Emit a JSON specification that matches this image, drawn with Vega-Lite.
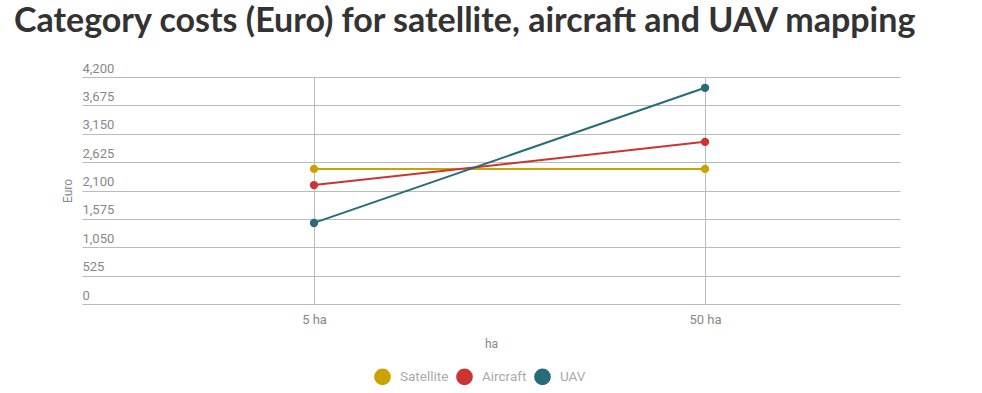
{
  "$schema": "https://vega.github.io/schema/vega-lite/v6.json",
  "autosize": "none",
  "width": 818,
  "height": 227,
  "padding": {"left": 82, "top": 77, "right": 82, "bottom": 89},
  "background": "white",
  "title": {
    "text": "Category costs (Euro) for satellite, aircraft and UAV mapping",
    "anchor": "start",
    "frame": "group",
    "dx": -68,
    "offset": 23,
    "font": "Lato",
    "fontSize": 34,
    "fontWeight": "bold",
    "color": "#333333"
  },
  "data": {
    "values": [
      {"series": "Satellite", "ha": 5, "euro": 2500},
      {"series": "Satellite", "ha": 50, "euro": 2500},
      {"series": "Aircraft", "ha": 5, "euro": 2200},
      {"series": "Aircraft", "ha": 50, "euro": 3000},
      {"series": "UAV", "ha": 5, "euro": 1500},
      {"series": "UAV", "ha": 50, "euro": 4000}
    ]
  },
  "encoding": {
    "x": {
      "field": "ha",
      "type": "quantitative",
      "scale": {"domain": [-21.7, 72.44], "nice": false, "zero": false},
      "axis": {
        "title": "ha",
        "values": [5, 50],
        "labelExpr": "datum.value + ' ha'",
        "labelAngle": 0,
        "domain": false,
        "ticks": false,
        "grid": true,
        "gridColor": "#bbbbbb",
        "labelPadding": 9,
        "titlePadding": 12
      }
    },
    "y": {
      "field": "euro",
      "type": "quantitative",
      "scale": {"domain": [0, 4200], "nice": false},
      "axis": {
        "title": "Euro",
        "values": [0, 525, 1050, 1575, 2100, 2625, 3150, 3675, 4200],
        "format": ",d",
        "domain": false,
        "ticks": false,
        "tickSize": 0,
        "labelAlign": "left",
        "labelBaseline": "bottom",
        "labelPadding": 0,
        "labelOffset": -2,
        "gridColor": "#bbbbbb",
        "titlePadding": 8
      }
    },
    "color": {
      "field": "series",
      "type": "nominal",
      "sort": ["Satellite", "Aircraft", "UAV"],
      "scale": {"domain": ["Satellite", "Aircraft", "UAV"], "range": ["#c9a300", "#cc3434", "#286b7a"]},
      "legend": {
        "title": null,
        "orient": "none",
        "direction": "horizontal",
        "legendX": 292,
        "legendY": 291,
        "symbolType": "circle",
        "symbolSize": 230,
        "symbolOpacity": 1,
        "labelFontSize": 13.5,
        "labelColor": "#aaaaaa",
        "columnPadding": 4,
        "labelOffset": 9
      }
    }
  },
  "layer": [
    {"mark": {"type": "line", "strokeWidth": 2}},
    {"mark": {"type": "point", "filled": true, "size": 70, "opacity": 1}}
  ],
  "config": {
    "font": "Roboto",
    "view": {"stroke": null},
    "axis": {
      "labelColor": "#888888",
      "labelFontSize": 13,
      "labelFont": "Roboto",
      "titleFont": "Roboto",
      "titleColor": "#888888",
      "titleFontSize": 12,
      "titleFontWeight": "normal",
      "gridColor": "#bbbbbb"
    },
    "legend": {"labelFont": "Roboto"}
  }
}
